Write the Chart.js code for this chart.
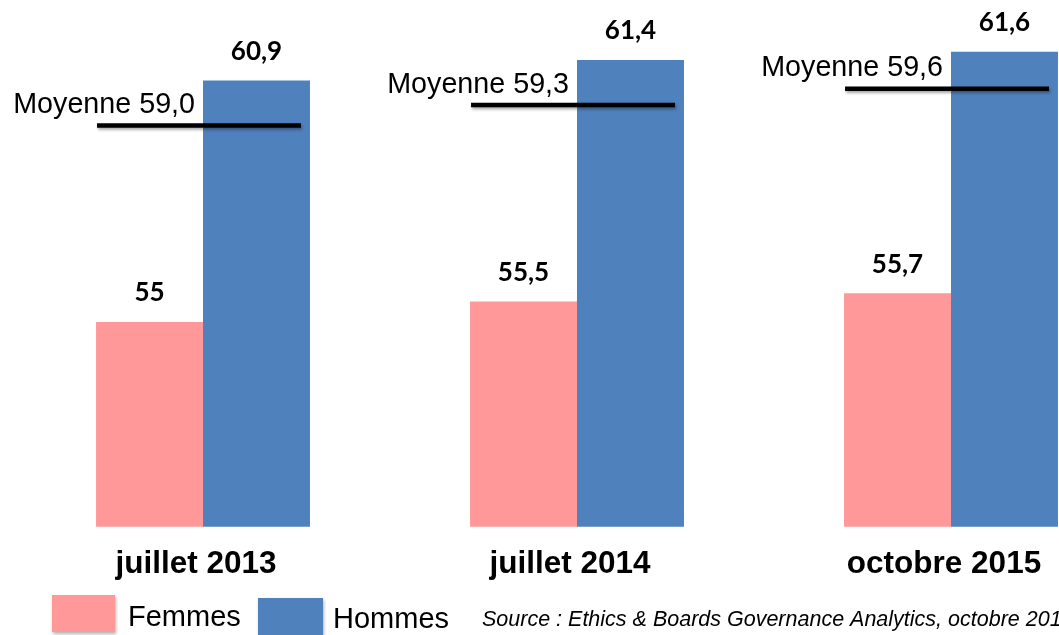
<!DOCTYPE html>
<html><head><meta charset="utf-8">
<script src="https://cdn.jsdelivr.net/npm/chart.js@4/dist/chart.umd.min.js"></script>
<style>
html,body{margin:0;padding:0;background:#fff;overflow:hidden;}
#wrap{position:relative;width:1059px;height:635px;overflow:hidden;background:#fff;}
#c{position:absolute;left:0;top:0;}
</style></head><body>
<div id="wrap"><canvas id="c" width="1140" height="635" style="width:1140px;height:635px"></canvas></div>
<script>
// ---- données ----
const categories = ['juillet 2013', 'juillet 2014', 'octobre 2015'];
const seriesNames = ['Femmes', 'Hommes'];
const femmes = [55, 55.5, 55.7];
const hommes = [60.9, 61.4, 61.6];
const moyennes = [59.0, 59.3, 59.6];          // valeurs affichées
const moyenneTraits = [59.8, 60.3, 60.7];
const sourceText = 'Source : Ethics & Boards Governance Analytics, octobre 2015';
const yMin = 50, yMax = 62.5;

const colFemmes = '#FF9999';
const colHommes = '#4F81BD';

function fmtVal(v) { return String(v).replace('.', ','); }
function fmtMoy(v) { return v.toFixed(1).replace('.', ','); }

const overlay = {
  id: 'overlay',
  afterDatasetsDraw(chart) {
    const ctx = chart.ctx;
    const ys = chart.scales.y;
    const mF = chart.getDatasetMeta(0), mH = chart.getDatasetMeta(1);
    ctx.save();
    // value labels
    ctx.font = 'bold 26px Lato, "Open Sans", sans-serif';
    ctx.textAlign = 'center';
    ctx.textBaseline = 'middle';
    ctx.fillStyle = '#000';
    [mF, mH].forEach((m, di) => {
      m.data.forEach((bar, i) => {
        ctx.fillText(fmtVal(chart.data.datasets[di].data[i]), bar.x, bar.y - 29);
      });
    });
    // mean lines + labels
    categories.forEach((c, i) => {
      const bf = mF.data[i], bh = mH.data[i];
      const left = bf.x - bf.width / 2 + 1;
      const right = bh.x + bh.width / 2 - 9;
      const ly = ys.getPixelForValue(moyenneTraits[i]);
      ctx.save();
      ctx.shadowColor = 'rgba(0,0,0,0.35)';
      ctx.shadowBlur = 3; ctx.shadowOffsetX = 1; ctx.shadowOffsetY = 2;
      ctx.strokeStyle = '#000';
      ctx.lineWidth = 4.5;
      ctx.beginPath(); ctx.moveTo(left, ly); ctx.lineTo(right, ly); ctx.stroke();
      ctx.restore();
      ctx.font = '28.7px "Liberation Sans", Arial, sans-serif';
      ctx.textAlign = 'right';
      ctx.textBaseline = 'alphabetic';
      ctx.fillStyle = '#000';
      ctx.fillText('Moyenne ' + fmtMoy(moyennes[i]), bf.x - bf.width / 2 + 99, ly - 12.5);
    });
    ctx.restore();
  },
  afterDraw(chart) {
    const ctx = chart.ctx;
    const ds = chart.data.datasets;
    ctx.save();
    // legend boxes
    const boxes = [[52, 595, 63, 37], [258, 598, 65, 40]];
    const texts = [[128, 625.5], [333, 627.5]];
    ds.forEach((d, i) => {
      const b = boxes[i];
      ctx.save();
      ctx.shadowColor = 'rgba(0,0,0,0.3)';
      ctx.shadowBlur = 3; ctx.shadowOffsetX = 1; ctx.shadowOffsetY = 2;
      ctx.fillStyle = d.backgroundColor;
      ctx.fillRect(b[0], b[1], b[2], b[3]);
      ctx.restore();
      ctx.font = '29px "Liberation Sans", Arial, sans-serif';
      ctx.textAlign = 'left';
      ctx.textBaseline = 'alphabetic';
      ctx.fillStyle = '#000';
      ctx.fillText(d.label, texts[i][0], texts[i][1]);
    });
    ctx.font = 'italic 21.5px "Liberation Sans", Arial, sans-serif';
    ctx.fillText(sourceText, 482, 626);
    ctx.restore();
  }
};

new Chart(document.getElementById('c').getContext('2d'), {
  type: 'bar',
  data: {
    labels: categories,
    datasets: [
      { label: seriesNames[0], data: femmes, backgroundColor: colFemmes, borderWidth: 0 },
      { label: seriesNames[1], data: hommes, backgroundColor: colHommes, borderWidth: 0 }
    ]
  },
  options: {
    responsive: false,
    animation: false,
    devicePixelRatio: 1,
    layout: { padding: { left: 16, right: 2, top: 15, bottom: 32.5 } },
    plugins: { legend: { display: false }, tooltip: { enabled: false } },
    datasets: { bar: { categoryPercentage: 0.572, barPercentage: 1 } },
    scales: {
      x: {
        grid: { display: false, drawTicks: false },
        border: { display: false },
        ticks: {
          color: '#000',
          font: { family: '"Liberation Sans", Arial, sans-serif', size: 31.5, weight: 'bold' },
          padding: 19,
          labelOffset: -7,
          maxRotation: 0,
          autoSkip: false
        }
      },
      y: { display: false, min: yMin, max: yMax }
    }
  },
  plugins: [overlay]
});
</script>
</body></html>
